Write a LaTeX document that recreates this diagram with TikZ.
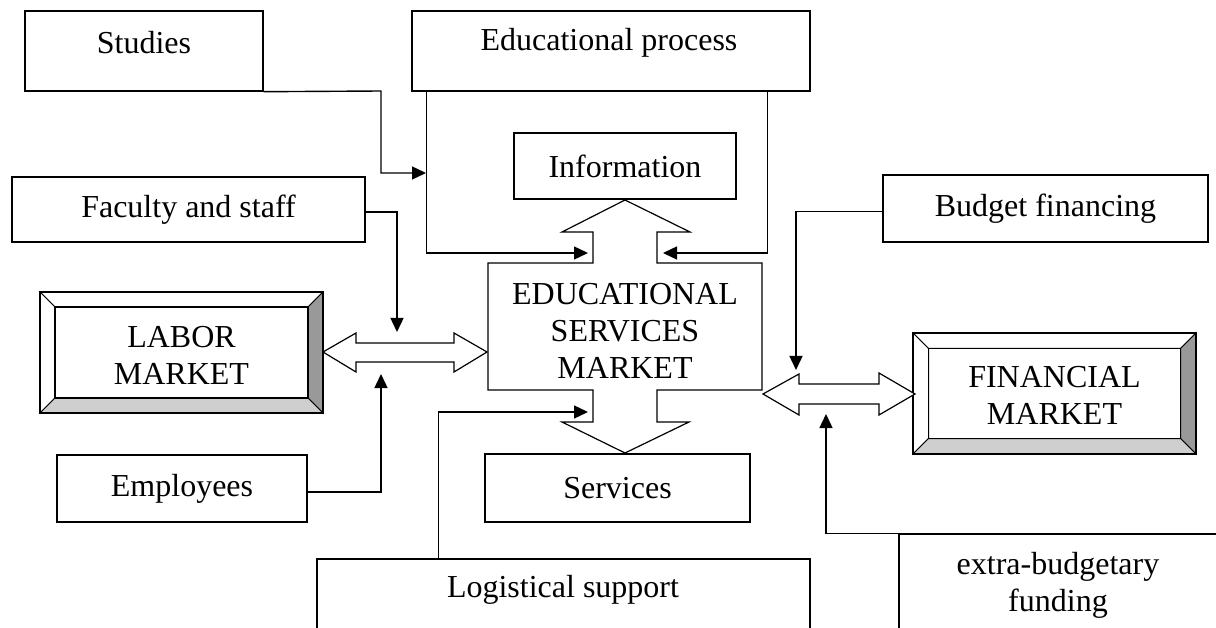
\documentclass[tikz,border=0pt]{standalone}
\usepackage{fontspec}
\setmainfont{Liberation Serif}
\usetikzlibrary{arrows.meta}
\newcommand\dtxt{\fontsize{32}{37}\selectfont}
\definecolor{bvdark}{HTML}{999999}
\definecolor{bvlight}{HTML}{CFCFCF}
\newcommand\bevelbox[5]{%
  \fill[white] (#1,#2) rectangle (#3,#4);
  \filldraw[fill=white, line width=1pt] (#1,#2) -- (#3,#2) -- ({#3-#5},{#2+#5}) -- ({#1+#5},{#2+#5}) -- cycle;
  \filldraw[fill=white, line width=1pt] (#1,#2) -- ({#1+#5},{#2+#5}) -- ({#1+#5},{#4-#5}) -- (#1,#4) -- cycle;
  \filldraw[fill=bvdark, line width=1pt] (#3,#2) -- (#3,#4) -- ({#3-#5},{#4-#5}) -- ({#3-#5},{#2+#5}) -- cycle;
  \filldraw[fill=bvlight, line width=1pt] (#1,#4) -- (#3,#4) -- ({#3-#5},{#4-#5}) -- ({#1+#5},{#4-#5}) -- cycle;
  \draw[line width=1.4pt] ({#1+#5},{#2+#5}) rectangle ({#3-#5},{#4-#5});
  \draw[line width=1.4pt] (#1,#2) rectangle (#3,#4);
}
\begin{document}
\begin{tikzpicture}[x=1pt,y=-1pt,line width=1.4pt,
  box/.style={draw, rectangle, inner sep=0pt, font=\dtxt},
  lbl/.style={inner sep=0pt, font=\dtxt, align=center},
  arr/.style={-{Triangle[length=14pt,width=13pt]}},
  blockarrow/.style={draw, fill=white, line width=1.2pt, line join=miter},
]
\useasboundingbox (0,0) rectangle (1216,628);
\fill[white] (0,0) rectangle (1216,628);
\clip (0,0) rectangle (1216,628);

% top boxes
\node[box, minimum width=238pt, minimum height=80pt] (studies) at (144,51) {};
\node[lbl] (studiesT) at (144,43) {Studies};
\node[box, minimum width=398pt, minimum height=80pt] (edu) at (611,51) {};
\node[lbl] (eduT) at (609,43) {Educational process};
\node[box, minimum width=353pt, minimum height=65pt] (faculty) at (188.5,209.5) {Faculty and staff};
\node[box, minimum width=222pt, minimum height=66pt] (info) at (625,166) {Information};
\node[box, minimum width=325pt, minimum height=67pt] (budget) at (1045.5,208.5) {Budget financing};

% bottom boxes
\node[box, minimum width=250pt, minimum height=67pt] (employees) at (182,488.5) {Employees};
\node[box, minimum width=265pt, minimum height=68pt] (services) at (617.5,488) {Services};
\node[box, minimum width=493pt, minimum height=101pt] (logist) at (563.5,609.5) {};
\node[lbl] (logistT) at (563,590) {Logistical support};
\node[box, minimum width=319pt, minimum height=126pt] (extra) at (1058.5,597) {};
\node[lbl] (extraT) at (1058,585) {extra-budgetary\\funding};

% central market with block arrows
\draw[blockarrow] (488,263) -- (593,263) -- (593,232) -- (562,232) -- (625,200) -- (690,232)
  -- (657,232) -- (657,263) -- (762,263) -- (762,390) -- (657,390) -- (657,422) -- (689,422)
  -- (625,453) -- (562,422) -- (593,422) -- (593,390) -- (488,390) -- cycle;
\node[lbl] (esm) at (625,331) {EDUCATIONAL\\SERVICES\\MARKET};

% bevelled market boxes
\bevelbox{40}{292}{323}{413}{15}
\node[lbl] (labor) at (181.5,355) {LABOR\\MARKET};
\bevelbox{913}{333}{1196}{454}{15.5}
\node[lbl] (fin) at (1054.5,395) {FINANCIAL\\MARKET};

% double arrows
\draw[blockarrow] (323,352) -- (356,333) -- (356,343) -- (454,343) -- (454,333) -- (487,352)
  -- (454,372) -- (454,362) -- (356,362) -- (356,372) -- cycle;
\draw[blockarrow] (763,394) -- (799,374) -- (799,384) -- (879,384) -- (879,373) -- (915,394)
  -- (879,415) -- (879,404) -- (799,404) -- (799,415) -- cycle;

% connector targets
\coordinate (tStudies) at (426,173);
\coordinate (tEduL) at (588,253);
\coordinate (tEduR) at (663,253);
\coordinate (tFac) at (397,332);
\coordinate (tEmp) at (381,374);
\coordinate (tLog) at (588,412);
\coordinate (tBud) at (796,370);
\coordinate (tExt) at (826,414);

% connectors
\draw[arr] (studies.south east) -- (381,91) |- (tStudies);
\draw[arr] ([xshift=15pt]edu.south west) |- (tEduL);
\draw[arr] ([xshift=-43pt]edu.south east) |- (tEduR);
\draw[arr] ([yshift=-2.5pt]faculty.east) -| (tFac);
\draw[arr] ([yshift=-3.5pt]employees.east) -| (tEmp);
\draw[arr] ([xshift=122pt]logist.north west) |- (tLog);
\draw[arr] ([yshift=-3pt]budget.west) -| (tBud);
\draw[arr] (extra.north west) -| (tExt);
\end{tikzpicture}
\end{document}
